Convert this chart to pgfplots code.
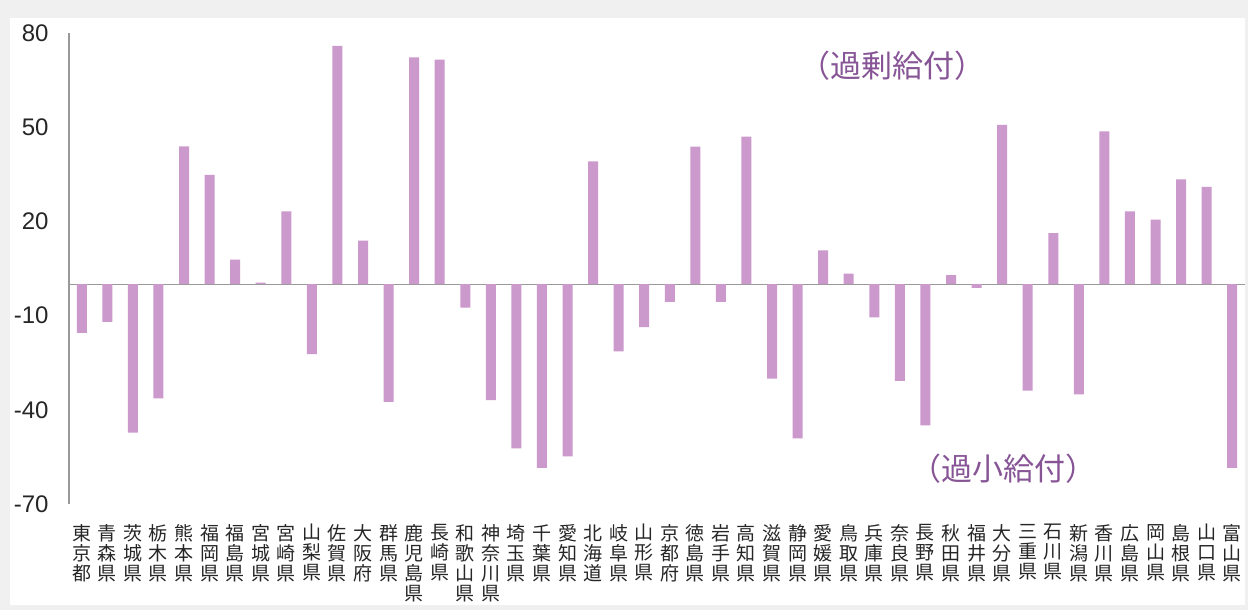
\documentclass[border=0pt]{standalone}
\usepackage{fontspec}
\setmainfont{Liberation Sans}
\newfontfamily\cjk{Noto Sans CJK JP}
\usepackage{pgfplots}
\pgfplotsset{compat=1.18}
\definecolor{barc}{RGB}{204,153,204}
\definecolor{anno}{RGB}{135,85,150}
\definecolor{bgg}{RGB}{240,240,240}
\begin{document}
\begin{tikzpicture}
\fill[bgg] (0,0) rectangle (624pt,305pt);
\useasboundingbox (0,0) rectangle (624pt,305pt);
\fill[white] (5pt,2.5pt) rectangle (622.5pt,296pt);
\begin{axis}[
  at={(34.5pt,53pt)}, anchor=south west,
  scale only axis, width=588pt, height=235.5pt,
  xmin=-0.5, xmax=45.5, ymin=-70, ymax=80,
  axis lines*=left,
  x axis line style={draw=none},
  y axis line style={draw=gray!80, line width=0.6pt},
  ytick={-70,-40,-10,20,50,80},
  major tick length=0pt,
  /pgf/number format/assume math mode=true,
  yticklabel style={font=\fontsize{12}{14}\selectfont, inner sep=0pt, xshift=-10pt, text=black!85},
  xtick=data,
  xticklabels={{東\\京\\都},{青\\森\\県},{茨\\城\\県},{栃\\木\\県},{熊\\本\\県},{福\\岡\\県},{福\\島\\県},{宮\\城\\県},{宮\\崎\\県},{山\\梨\\県},{佐\\賀\\県},{大\\阪\\府},{群\\馬\\県},{鹿\\児\\島\\県},{長\\崎\\県},{和\\歌\\山\\県},{神\\奈\\川\\県},{埼\\玉\\県},{千\\葉\\県},{愛\\知\\県},{北\\海\\道},{岐\\阜\\県},{山\\形\\県},{京\\都\\府},{徳\\島\\県},{岩\\手\\県},{高\\知\\県},{滋\\賀\\県},{静\\岡\\県},{愛\\媛\\県},{鳥\\取\\県},{兵\\庫\\県},{奈\\良\\県},{長\\野\\県},{秋\\田\\県},{福\\井\\県},{大\\分\\県},{三\\重\\県},{石\\川\\県},{新\\潟\\県},{香\\川\\県},{広\\島\\県},{岡\\山\\県},{島\\根\\県},{山\\口\\県},{富\\山\\県}},
  xticklabel style={font=\cjk\fontsize{9.5}{10}\selectfont, align=center, anchor=north, inner sep=0pt, yshift=-10pt, text=black!85},
  extra y ticks={0}, extra y tick labels={},
  extra y tick style={grid=major, major grid style={draw=gray!80, line width=0.6pt}},
  ybar, bar width=5pt,
  clip=false,
]
\addplot[fill=barc, draw=none] coordinates {
(0,-15.5) (1,-12) (2,-47.3) (3,-36.4) (4,43.9) (5,34.8) (6,7.8) (7,0.5) (8,23.2) (9,-22.3)
(10,75.9) (11,13.9) (12,-37.5) (13,72.2) (14,71.5) (15,-7.5) (16,-36.9) (17,-52.3) (18,-58.5) (19,-54.8)
(20,39.1) (21,-21.4) (22,-13.7) (23,-5.6) (24,43.8) (25,-5.6) (26,47.0) (27,-30.1) (28,-49.1) (29,10.8)
(30,3.4) (31,-10.6) (32,-30.8) (33,-45.0) (34,2.9) (35,-1.2) (36,50.7) (37,-33.9) (38,16.3) (39,-35.1)
(40,48.7) (41,23.2) (42,20.6) (43,33.4) (44,31.0) (45,-58.5)
};
\end{axis}
\node[font=\cjk\fontsize{15.5}{17}\selectfont, text=anno] at (446pt,272pt) {（過剰給付）};
\node[font=\cjk\fontsize{15.5}{17}\selectfont, text=anno] at (501.5pt,70.5pt) {（過小給付）};
\end{tikzpicture}
\end{document}
